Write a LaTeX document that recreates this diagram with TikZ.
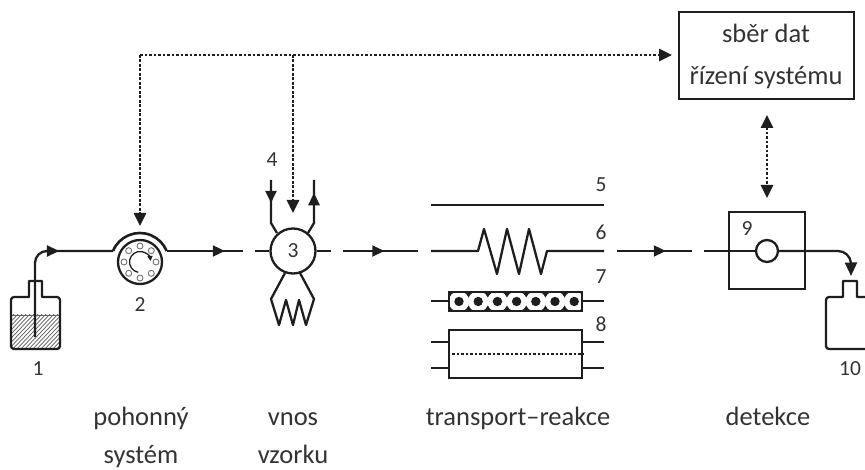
\documentclass[tikz,border=0pt]{standalone}
\usepackage{fontspec}
\setmainfont{Carlito}
\usetikzlibrary{arrows.meta,decorations.markings,calc}
\definecolor{ink}{HTML}{1E1E1E}
\definecolor{txt}{HTML}{333333}
\tikzset{
  x=1pt,y=-1pt,
  flow/.style={draw=ink,line width=2.3pt,line join=round},
  tipped/.style={flow,-{Triangle[length=12.5pt,width=11.5pt]}},
  midarrow/.style={postaction={decorate},decoration={markings,mark=at position #1 with {\arrow{Triangle[length=12pt,width=11pt]}}}},
  sigline/.style={draw=ink,line width=2.8pt,dash pattern=on 2.6pt off 1.9pt,-{Triangle[length=13pt,width=12pt]}},
  sigboth/.style={sigline,{Triangle[length=13pt,width=12pt]}-{Triangle[length=13pt,width=12pt]}},
  lbl/.style={font=\fontsize{21.5}{23}\selectfont,text=txt,inner sep=0pt},
  captext/.style={font=\fontsize{26.5}{28}\selectfont,text=txt,inner sep=0pt,anchor=base},
  bead/.style={circle,fill=ink,minimum size=9.4pt,inner sep=0pt},
  pumppin/.style={circle,draw=black!55,line width=.9pt,minimum size=6pt,inner sep=0pt},
}
\begin{document}
\begin{tikzpicture}
\useasboundingbox (0,0) rectangle (865,470);
\clip (0,0) rectangle (865,470);
% reservoir 1
\begin{scope}
 \clip (11,315) rectangle (60,349);
 \foreach \k in {0,...,24} \draw[black!65,line width=.7pt] (-30+\k*4,352) -- (-30+\k*4+38,312);
\end{scope}
\draw[draw=black!60,line width=.8pt] (11,315) -- (60,315);
\draw[flow] (29,297) -- (29,281) -- (42,281) -- (42,297) -- (57,297) arc[start angle=-90,end angle=0,radius=3]
  -- (60,346) arc[start angle=0,end angle=90,radius=3] -- (14,349) arc[start angle=90,end angle=180,radius=3] -- (11,300) arc[start angle=180,end angle=270,radius=3] -- cycle;
\node[lbl] (n1) at (38,369) {1};
% pump 2
\node[circle,draw=ink,line width=2.3pt,minimum size=44pt,inner sep=0pt] (pump) at (140,262) {};
\coordinate (pumpL) at (113,251);
\coordinate (pumpR) at (167,251);
\draw[flow,line width=2.6pt] (pumpL) arc[start angle=202.3,end angle=337.7,radius=29];
\foreach \a in {0,45,...,315} \node[pumppin] at ($(140,262)+(\a:16)$) {};
\draw[draw=ink,line width=1.3pt,-{Triangle[length=5pt,width=5pt]}] (138.2,272.3) arc[start angle=100,end angle=355,radius=10.5];
\node[lbl] (n2) at (140,305) {2};
% source line
\coordinate (tubeEnd) at (35,337);
\draw[flow,midarrow=0.66] (tubeEnd) -- (35,263) arc[start angle=180,end angle=270,radius=12] -- (pumpL);
\draw[flow,midarrow=0.76] (pumpR) -- (243,251);
% injector 3
\node[circle,draw=ink,line width=2.3pt,minimum size=45pt,inner sep=0pt,lbl] (valve) at (293,251) {3};
\coordinate (a1) at (255,251); \coordinate (a2) at (331,251);
\draw[flow] (a1) -- (valve.west);
\draw[flow] (valve.east) -- (a2);
\coordinate (v4) at (271,180);
\coordinate (vOut) at (314,180);
\draw[flow,midarrow=0.42] (v4) -- (271,223) -- (277,233);
\draw[flow] (308,233) -- (314,223) -- (vOut);
\draw[tipped] (314,215) -- (314,193);
\draw[flow] (285,273) -- (271,299) -- (279,325) -- (286,300) -- (293,325) -- (299,300) -- (306,325) -- (314,299) -- (300,273);
\node[lbl] (n4) at (272,160) {4};
% transport
\draw[flow,midarrow=0.55] (343,251) -- (418,251);
\draw[flow] (431,205) -- (604,205);
\draw[flow] (431,251) -- (478,251) -- (484,229) -- (497,274) -- (507,229) -- (519,274) -- (529,229) -- (541,274) -- (547,251) -- (604,251);
\node[lbl] (n5) at (601,185) {5};
\node[lbl] (n6) at (601,232) {6};
\node[lbl] (n7) at (601,277) {7};
\node[lbl] (n8) at (601,324) {8};
% packed 7
\draw[flow] (431,301) -- (449,301);
\draw[flow] (582,301) -- (604,301);
\begin{scope}
 \clip (449,292) rectangle (582,311);
 \fill[ink] (449,292) rectangle (582,311);
 \foreach \x in {459,478.2,497.4,516.6,535.8,555,574.2} \fill[white] (\x,301.5) circle[radius=10.3];
\end{scope}
\foreach \x in {459,478.2,497.4,516.6,535.8,555,574.2} \node[bead] at (\x,301.5) {};
\node[draw=ink,line width=2.2pt,minimum width=133pt,minimum height=19pt,inner sep=0pt] (pack) at (515.5,301.5) {};
% membrane 8
\node[draw=ink,line width=2.3pt,minimum width=133pt,minimum height=48pt,inner sep=0pt] (mem) at (515.5,354) {};
\draw[flow] (431,342) -- (449,342);
\draw[flow] (431,368) -- (449,368);
\draw[flow] (582,342) -- (604,342);
\draw[flow] (582,368) -- (604,368);
\draw[draw=ink,line width=2.6pt,dash pattern=on 2.6pt off 1.9pt] (mem.west) -- (mem.east);
% link to detector
\draw[flow,midarrow=0.65] (617,251) -- (692,251);
% detector 9
\node[draw=ink,line width=2.3pt,minimum width=76pt,minimum height=77pt,inner sep=0pt] (det) at (767,250.5) {};
\node[circle,draw=ink,line width=2.3pt,minimum size=22pt,inner sep=0pt] (cell) at (767,251) {};
\coordinate (d1) at (704,251);
\draw[flow] (d1) -- (cell.west);
\draw[flow,-{Triangle[length=13.5pt,width=12pt]}] (cell.east) -- (838,251) arc[start angle=-90,end angle=-5,radius=13] -- (851,276);
\node[lbl] (n9) at (747,229) {9};
% waste 10
\draw[flow] (843,297) -- (843,281) -- (857,281) -- (857,297) -- (880,297) -- (880,349) -- (829,349) arc[start angle=90,end angle=180,radius=3] -- (826,300) arc[start angle=180,end angle=270,radius=3] -- cycle;
\node[lbl] (n10) at (850,369) {10};
% control box
\node[draw=ink,line width=2.6pt,minimum width=175pt,minimum height=87pt,inner sep=0pt] (ctrl) at (766.5,55.5) {};
\node[captext] (t1) at (766,43) {sběr dat};
\node[captext] (t2) at (766,85) {řízení systému};
\coordinate (corner) at (140,55);
\coordinate (tee) at (293,55);
\coordinate (pumpTip) at (140,226);
\coordinate (valveTip) at (293,213);
\coordinate (ctrlTip) at (672,55);
\draw[sigline] (corner) -- (ctrlTip);
\draw[sigline] (corner) -- (pumpTip);
\draw[sigline] (tee) -- (valveTip);
\coordinate (upTip) at (767,115);
\coordinate (downTip) at (767,198);
\draw[sigboth] (upTip) -- (downTip);
% captions
\node[captext] (c1) at (141,425) {pohonný};
\node[captext] (c2) at (141,463.5) {systém};
\node[captext] (c3) at (293,425) {vnos};
\node[captext] (c4) at (293,463.5) {vzorku};
\node[captext] (c5) at (518,425) {transport–reakce};
\node[captext] (c6) at (768,425) {detekce};
\end{tikzpicture}
\end{document}
